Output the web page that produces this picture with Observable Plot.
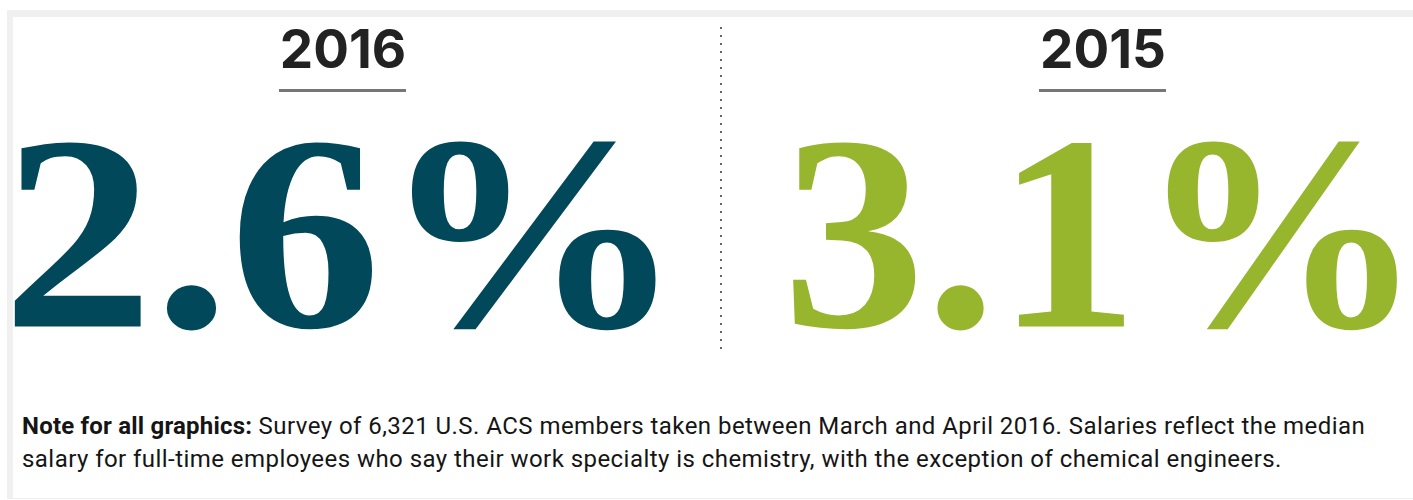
<!DOCTYPE html>
<html>
<head>
<meta charset="utf-8">
<script src="https://cdn.jsdelivr.net/npm/d3@7"></script>
<script src="https://cdn.jsdelivr.net/npm/@observablehq/plot@0.6"></script>
<style>
  html, body { margin: 0; padding: 0; background: #fff; width: 1413px; height: 500px; overflow: hidden; }
  #frame { position: absolute; left: 7px; top: 10px; width: 1406px; height: 481px;
           border-top: 7px solid #f0f0f0; border-left: 6px solid #f0f0f0; border-bottom: 1px solid #ececec; }
  #chart { position: absolute; left: 0; top: 0; }
  #note { position: absolute; left: 22px; top: 410px; white-space: nowrap;
          font-family: Roboto, "DejaVu Sans Condensed", sans-serif;
          font-size: 24px; line-height: 33px; color: #151515; letter-spacing: 0.45px; }
  #note .lead { font-weight: 700; letter-spacing: 0.2px; }
</style>
</head>
<body>
<div id="frame"></div>
<div id="chart"></div>
<div id="note"><span class="lead">Note for all graphics:</span><span> Survey of 6,321 U.S. ACS members taken between March and April 2016. Salaries reflect the median</span><br><span>salary for full-time employees who say their work specialty is chemistry, with the exception of chemical engineers.</span></div>
<script>
const years = ["2016", "2015"];
const values = [2.6, 3.1];
const labels = ["2.6%", "3.1%"];
const colors = ["#00485a", "#97b52d"];

const data = years.map((year, i) => ({year, value: values[i], label: labels[i], color: colors[i]}));

const chart = Plot.plot({
  width: 1413,
  height: 390,
  margin: 0,
  x: {type: "band", domain: years, range: [278, 1166], paddingInner: 0.833, paddingOuter: 0, axis: null},
  y: {domain: [0, 390], range: [0, 390], axis: null},
  style: {background: "transparent"},
  marks: [
    Plot.text(data, {x: "year", y: 67, text: "year", lineAnchor: "bottom", fontSize: 53, fontWeight: 700,
      fontFamily: "Inter, Roboto, sans-serif", fill: "#222"}),
    Plot.tickY(data, {x: "year", y: 90, stroke: "#777", strokeWidth: 3}),
    Plot.text(data, {x: "year", y: 326, text: "label", lineAnchor: "bottom", fontSize: 278, fontWeight: 700,
      fontFamily: "Liberation Serif, serif", fill: "color", dx: 0, className: "bignum"}),
    Plot.ruleX(years.slice(0, 1), {x: d => d, y1: 27, y2: 355, dx: 378, stroke: "#666", strokeWidth: 2,
      strokeDasharray: "2 6"})
  ]
});
document.getElementById("chart").appendChild(chart);

// widen the big serif figures to the proportions of the original display face
const stretch = [1.09, 1.025];
d3.select(chart).selectAll(".bignum text").each(function(d, i) {
  const w = this.getComputedTextLength();
  d3.select(this).attr("textLength", w * stretch[i]).attr("lengthAdjust", "spacingAndGlyphs");
});
</script>
</body>
</html>
